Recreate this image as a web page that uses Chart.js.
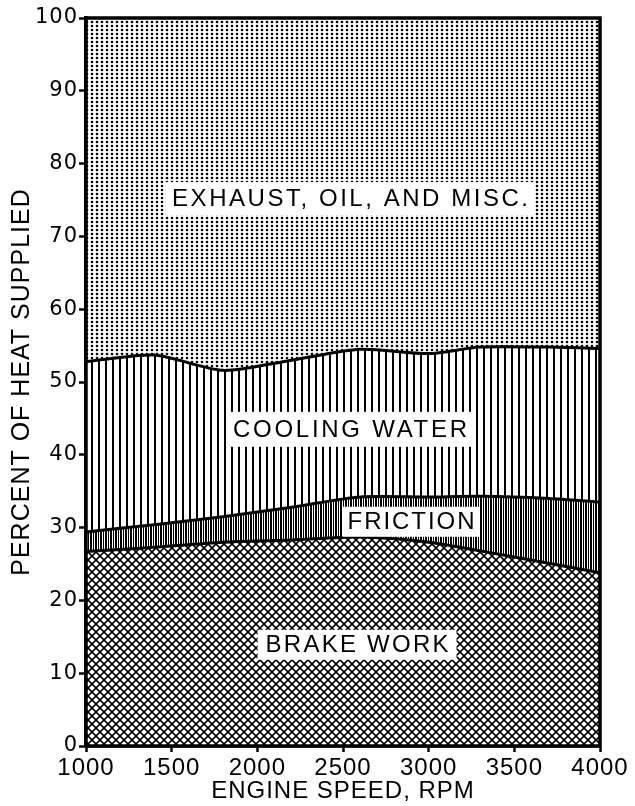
<!DOCTYPE html>
<html>
<head>
<meta charset="utf-8">
<script src="https://cdn.jsdelivr.net/npm/chart.js@4.4.1/dist/chart.umd.min.js"></script>
<style>
  html, body { margin: 0; padding: 0; background: #fff; }
  #wrap { width: 635px; height: 806px; }
</style>
</head>
<body>
<div id="wrap"><canvas id="heatChart" width="635" height="806"></canvas></div>
<script>
// engine speed, rpm
const rpm = [1000, 1400, 1800, 2200, 2600, 3000, 3300, 3700, 4000];
// share of heat supplied, percent (stacked bottom to top)
const brakeWork = [26.7, 27.3, 28.0, 28.3, 28.7, 28.0, 26.8, 25.1, 23.8];
const friction = [2.7, 3.1, 3.5, 4.5, 5.5, 6.2, 7.5, 8.9, 9.7];
const coolingWater = [23.4, 23.3, 20.1, 20.2, 20.3, 19.7, 20.5, 20.8, 21.1];
const exhaustMisc = [47.2, 46.3, 48.4, 47.0, 45.5, 46.1, 45.2, 45.2, 45.4];

const bandNames = ["BRAKE WORK", "FRICTION", "COOLING WATER", "EXHAUST, OIL, AND MISC."];
const xTitle = "ENGINE SPEED, RPM";
const yTitle = "PERCENT OF HEAT SUPPLIED";

const canvas = document.getElementById("heatChart");
const mainCtx = canvas.getContext("2d");

function makePattern(w, h, paint) {
  const c = document.createElement("canvas");
  c.width = w;
  c.height = h;
  const g = c.getContext("2d");
  g.fillStyle = "#fff";
  g.fillRect(0, 0, w, h);
  g.fillStyle = "#000";
  g.strokeStyle = "#000";
  paint(g);
  return mainCtx.createPattern(c, "repeat");
}

// stipple for exhaust
const dotFill = makePattern(5, 4, g => {
  g.beginPath();
  g.arc(2, 2, 1.3, 0, Math.PI * 2);
  g.fill();
});
// open vertical hatching for cooling water
const coolFill = makePattern(7, 4, g => g.fillRect(0, 0, 2, 4));
// dense vertical hatching for friction
const fricFill = makePattern(5, 4, g => {
  g.fillRect(0, 0, 2, 4);
  g.fillRect(3, 0, 1, 4);
});
// crosshatch for brake work
const crossFill = makePattern(8, 8, g => {
  g.lineWidth = 1.6;
  for (const k of [-8, 0, 8]) {
    g.beginPath();
    g.moveTo(k, 0);
    g.lineTo(k + 8, 8);
    g.moveTo(k + 8, 0);
    g.lineTo(k, 8);
    g.stroke();
  }
});

function pts(values) {
  return rpm.map((r, i) => ({ x: r, y: values[i] }));
}

const frame = {
  id: "frame",
  beforeDraw(chart) {
    chart.ctx.letterSpacing = "1px";
  },
  afterDatasetsDraw(chart) {
    const { ctx, chartArea: a } = chart;
    ctx.save();
    ctx.lineWidth = 3.5;
    ctx.strokeStyle = "#000";
    ctx.strokeRect(a.left, a.top, a.right - a.left, a.bottom - a.top);
    ctx.restore();
  },
};

const bandLabels = {
  id: "bandLabels",
  afterDatasetsDraw(chart, args, opts) {
    const { ctx, scales } = chart;
    ctx.save();
    opts.items.forEach(item => {
      const cx = scales.x.getPixelForValue(item.rpm);
      const cy = scales.y.getPixelForValue(item.pct);
      ctx.fillStyle = "#fff";
      ctx.fillRect(cx - item.boxW / 2, cy - item.boxH / 2, item.boxW, item.boxH);
      ctx.font = opts.font;
      ctx.letterSpacing = "0px";
      const w0 = ctx.measureText(item.text).width;
      const ls = (item.textW - w0) / (item.text.length - 1);
      ctx.letterSpacing = ls + "px";
      ctx.fillStyle = "#000";
      ctx.textAlign = "left";
      ctx.textBaseline = "middle";
      ctx.fillText(item.text, cx - item.textW / 2, cy + 1);
    });
    ctx.restore();
  },
};

new Chart(canvas, {
  type: "line",
  data: {
    datasets: [
      { label: bandNames[0], data: pts(brakeWork), backgroundColor: crossFill, fill: "origin", borderColor: "#000", borderWidth: 3 },
      { label: bandNames[1], data: pts(friction), backgroundColor: fricFill, fill: "-1", borderColor: "#000", borderWidth: 3 },
      { label: bandNames[2], data: pts(coolingWater), backgroundColor: coolFill, fill: "-1", borderColor: "#000", borderWidth: 3 },
      { label: bandNames[3], data: pts(exhaustMisc), backgroundColor: dotFill, fill: "-1", borderWidth: 0 },
    ],
  },
  options: {
    responsive: false,
    animation: false,
    events: [],
    elements: {
      point: { radius: 0 },
      line: { tension: 0.25 },
    },
    layout: { padding: { top: 18, right: 35, left: 0, bottom: 0 } },
    plugins: {
      legend: { display: false },
      tooltip: { enabled: false },
      bandLabels: {
        font: '24px "Liberation Sans"',
        items: [
          { text: bandNames[3], rpm: 2541, pct: 75.2, textW: 356, boxW: 368, boxH: 33 },
          { text: bandNames[2], rpm: 2541, pct: 43.5, textW: 234, boxW: 245, boxH: 35 },
          { text: bandNames[1], rpm: 2897, pct: 30.8, textW: 127, boxW: 137, boxH: 30 },
          { text: bandNames[0], rpm: 2582, pct: 13.9, textW: 183, boxW: 199, boxH: 30 },
        ],
      },
    },
    scales: {
      x: {
        type: "linear",
        min: 1000,
        max: 4000,
        afterFit: s => { s.height = 60; },
        border: { color: "#000", width: 3.5 },
        grid: { drawOnChartArea: false, drawTicks: true, tickLength: 6, tickColor: "#000", tickWidth: 2.5 },
        ticks: {
          stepSize: 500,
          padding: 2,
          color: "#000",
          font: { family: "Liberation Sans", size: 24 },
          callback: v => String(v),
        },
        title: {
          display: true,
          text: xTitle,
          color: "#000",
          font: { family: "Liberation Sans", size: 24 },
          padding: { top: 0, bottom: 0 },
        },
      },
      y: {
        stacked: true,
        min: 0,
        max: 100,
        afterFit: s => { s.width = 86; },
        border: { color: "#000", width: 3.5 },
        grid: { drawOnChartArea: false, drawTicks: true, tickLength: 7, tickColor: "#000", tickWidth: 2.5 },
        ticks: {
          stepSize: 10,
          padding: 1,
          color: "#000",
          font: { family: "DejaVu Sans", size: 21 },
        },
        title: {
          display: true,
          text: yTitle,
          color: "#000",
          font: { family: "Liberation Sans", size: 25 },
          padding: { top: 7, bottom: 0 },
        },
      },
    },
  },
  plugins: [frame, bandLabels],
});
</script>
</body>
</html>
